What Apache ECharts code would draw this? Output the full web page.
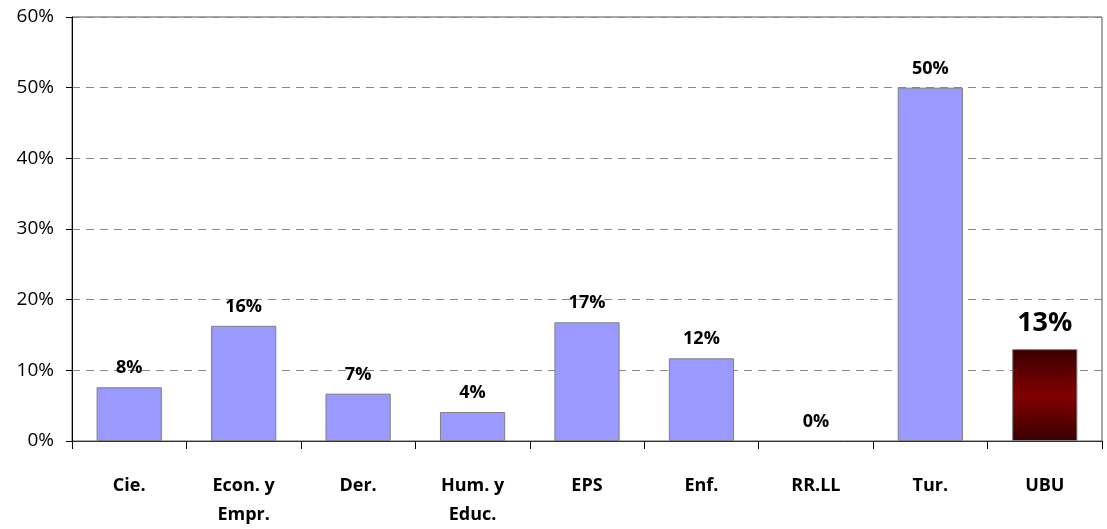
<!DOCTYPE html>
<html>
<head>
<meta charset="utf-8">
<script src="https://cdn.jsdelivr.net/npm/echarts@6/dist/echarts.min.js"></script>
<style>
    html, body { margin: 0; padding: 0; background: #fff; }
    #chart { width: 1107px; height: 529px; }
</style>
</head>
<body>
<div id="chart"></div>
<script>
// categorías y porcentajes por centro
let categories = ['Cie.', 'Econ. y\nEmpr.', 'Der.', 'Hum. y\nEduc.', 'EPS', 'Enf.', 'RR.LL', 'Tur.', 'UBU'];
let values = [7.6, 16.3, 6.7, 4.1, 16.8, 11.7, 0, 50, 13];
let yTicks = [0, 10, 20, 30, 40, 50, 60];

let fontFamily = 'Open Sans, sans-serif';

let data = values.map((v, i) => {
    if (categories[i] === 'UBU') {
        return {
            value: v,
            itemStyle: {
                color: {
                    type: 'linear', x: 0, y: 0, x2: 0, y2: 1,
                    colorStops: [
                        {offset: 0, color: '#3a0000'},
                        {offset: 0.5, color: '#820000'},
                        {offset: 1, color: '#3a0000'}
                    ]
                }
            },
            label: {fontSize: 27, distance: 12}
        };
    }
    if (v === 0) {
        // sin borde para la barra vacía
        return {value: v, itemStyle: {borderWidth: 0}};
    }
    return v;
});

let chart = echarts.init(document.getElementById('chart'));
chart.setOption({
    animation: false,
    grid: {
        left: 72,
        right: 5,
        top: 17,
        bottom: 88,
        show: true,
        borderColor: '#555',
        borderWidth: 1
    },
    xAxis: {
        type: 'category',
        data: categories,
        axisLine: {lineStyle: {color: '#333', width: 1}},
        axisTick: {show: true, length: 8, lineStyle: {color: '#000'}},
        axisLabel: {
            color: '#000',
            fontFamily: fontFamily,
            fontWeight: 'bold',
            fontSize: 18,
            lineHeight: 29,
            margin: 30,
            interval: 0
        }
    },
    yAxis: {
        type: 'value',
        min: 0,
        max: 60,
        interval: 10,
        axisLine: {show: true, lineStyle: {color: '#000'}},
        axisTick: {show: true, length: 6, lineStyle: {color: '#000'}},
        axisLabel: {
            color: '#000',
            fontFamily: fontFamily,
            fontSize: 19,
            margin: 18,
            formatter: (v) => yTicks.indexOf(v) >= 0 ? v + '%' : ''
        },
        splitLine: {
            lineStyle: {color: '#888', type: [8, 6], width: 1}
        }
    },
    series: [{
        type: 'bar',
        data: data,
        barCategoryGap: '43%',
        itemStyle: {
            color: '#9999ff',
            borderColor: '#808080',
            borderWidth: 1
        },
        label: {
            show: true,
            position: 'top',
            distance: 10,
            color: '#000',
            fontFamily: fontFamily,
            fontWeight: 'bold',
            fontSize: 18,
            formatter: (p) => Math.round(p.value) + '%'
        }
    }]
});
</script>
</body>
</html>
